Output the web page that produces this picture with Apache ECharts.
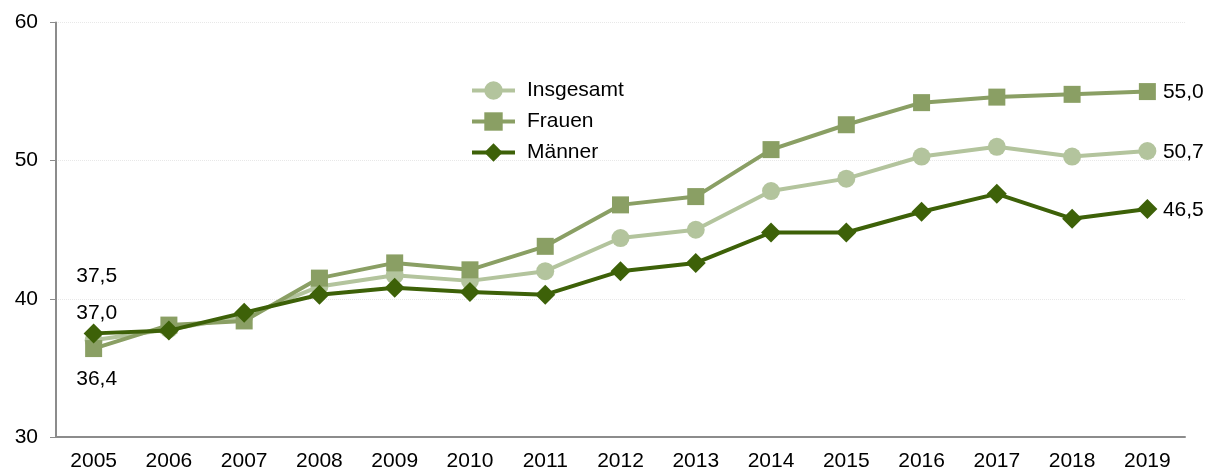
<!DOCTYPE html>
<html>
<head>
<meta charset="utf-8">
<script src="https://cdn.jsdelivr.net/npm/echarts@6/dist/echarts.min.js"></script>
<style>
html,body{margin:0;padding:0;background:#fff;}
#chart{width:1205px;height:472px;}
</style>
</head>
<body>
<div id="chart"></div>
<script>
const years = ['2005','2006','2007','2008','2009','2010','2011','2012','2013','2014','2015','2016','2017','2018','2019'];
const insgesamt = [37.0, 37.8, 38.7, 40.9, 41.7, 41.3, 42.0, 44.4, 45.0, 47.8, 48.7, 50.3, 51.0, 50.3, 50.7];
const frauen    = [36.4, 38.1, 38.4, 41.5, 42.6, 42.1, 43.8, 46.8, 47.4, 50.8, 52.6, 54.2, 54.6, 54.8, 55.0];
const maenner   = [37.5, 37.7, 39.0, 40.3, 40.8, 40.5, 40.3, 42.0, 42.6, 44.8, 44.8, 46.3, 47.6, 45.8, 46.5];
const yTicks = [30, 40, 50, 60];

const FONT = 'Liberation Sans, Arial, sans-serif';
const FS = 21;
const fmt = v => v.toFixed(1).replace('.', ',');

function buildData(arr, firstOffsetY) {
  return arr.map((v, i) => {
    if (i === 0) {
      return { value: v, label: { show: true, position: 'inside', offset: [3, firstOffsetY], formatter: p => fmt(p.value) } };
    }
    if (i === arr.length - 1) {
      return { value: v, label: { show: true, position: 'inside', offset: [36, 1], formatter: p => fmt(p.value) } };
    }
    return v;
  });
}

const labelStyle = { color: '#000', fontSize: FS, fontFamily: FONT };

const chart = echarts.init(document.getElementById('chart'), null, { renderer: 'canvas' });
chart.setOption({
  animation: false,
  backgroundColor: '#fff',
  grid: { left: 56, right: 20, top: 22.5, bottom: 35, containLabel: false },
  legend: {
    orient: 'vertical',
    left: 465,
    top: 75,
    itemWidth: 43,
    itemHeight: 23,
    itemGap: 10,
    lineStyle: { width: 4 },
    textStyle: { color: '#000', fontSize: FS, fontFamily: FONT, padding: [0, 0, 0, 7] },
    data: ['Insgesamt', 'Frauen', 'Männer']
  },
  xAxis: {
    type: 'category',
    data: years,
    boundaryGap: true,
    axisLine: { show: true, lineStyle: { color: '#8c8c8c', width: 2 } },
    axisTick: { show: false },
    axisLabel: { color: '#000', fontSize: FS, fontFamily: FONT, margin: 14, interval: 0 },
    splitLine: { show: false }
  },
  yAxis: {
    type: 'value',
    min: yTicks[0],
    max: yTicks[yTicks.length - 1],
    interval: 10,
    axisLine: { show: true, lineStyle: { color: '#8c8c8c', width: 2 } },
    axisTick: { show: true, length: 6, lineStyle: { color: '#8c8c8c', width: 1 } },
    axisLabel: { color: '#000', fontSize: FS, fontFamily: FONT, margin: 18 },
    splitLine: { show: true, lineStyle: { color: '#e8e8e8', width: 1, type: 'dotted' } }
  },
  series: [
    {
      name: 'Insgesamt', type: 'line', data: buildData(insgesamt, -27),
      symbol: 'circle', symbolSize: 18,
      lineStyle: { color: '#b3c49d', width: 4 },
      itemStyle: { color: '#b3c49d' },
      label: labelStyle, z: 2
    },
    {
      name: 'Frauen', type: 'line', data: buildData(frauen, 31),
      symbol: 'rect', symbolSize: 17,
      lineStyle: { color: '#8a9f64', width: 4 },
      itemStyle: { color: '#8a9f64' },
      label: labelStyle, z: 3
    },
    {
      name: 'Männer', type: 'line', data: buildData(maenner, -57),
      symbol: 'diamond', symbolSize: 20,
      lineStyle: { color: '#3d6108', width: 4 },
      itemStyle: { color: '#3d6108' },
      label: labelStyle, z: 4
    }
  ]
});
</script>
</body>
</html>
